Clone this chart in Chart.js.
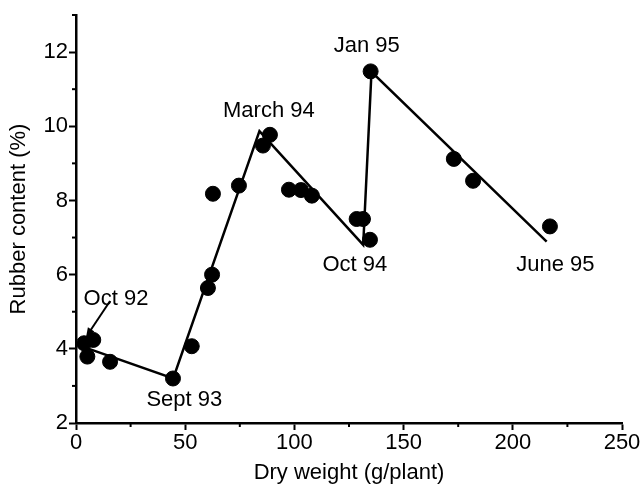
<!DOCTYPE html>
<html>
<head>
<meta charset="utf-8">
<script src="https://cdn.jsdelivr.net/npm/chart.js@4/dist/chart.umd.min.js"></script>
<style>
  html, body { margin: 0; padding: 0; background: #fff; }
  canvas { display: block; }
</style>
</head>
<body>
<canvas id="chart" width="644" height="487"></canvas>
<script>
// measured points
const dryWeight = [3.7, 5.2, 7.9, 15.6, 44.4, 53, 60.4, 62.3, 62.7, 74.6, 85.6, 88.8, 97.5, 103, 108, 128.5, 131.4, 134.6, 134.9, 173, 181.8, 217];
const rubber = [4.15, 3.79, 4.24, 3.65, 3.2, 4.07, 5.64, 6.0, 8.18, 8.4, 9.48, 9.77, 8.29, 8.28, 8.13, 7.5, 7.5, 6.94, 11.48, 9.12, 8.53, 7.3];

// seasonal trend line (zig-zag)
const trendX = [3, 44.5, 84, 131.5, 135.3, 215.5];
const trendY = [4.06, 3.2, 9.87, 6.8, 11.47, 6.89];

// date labels, anchored at text baseline centre
const noteText = ["Oct 92", "Sept 93", "March 94", "Oct 94", "Jan 95", "June 95"];
const noteX = [18.3, 49.6, 88.3, 127.7, 133.1, 219.5];
const noteY = [5.18, 2.47, 10.25, 6.11, 12.0, 6.11];

const xTicks = [0, 50, 100, 150, 200, 250];
const yTicks = [2, 4, 6, 8, 10, 12];

Chart.defaults.font.family = "'Liberation Sans', Arial, Helvetica, sans-serif";
Chart.defaults.color = "#000";

const toPoints = (xs, ys) => xs.map((x, i) => ({ x: x, y: ys[i] }));

const minorTicks = {
  id: "minorTicks",
  afterDraw(chart) {
    const { ctx, scales: { x, y } } = chart;
    ctx.save();
    ctx.strokeStyle = "#000";
    ctx.lineWidth = 2;
    for (let v = 25; v < 250; v += 50) {
      const px = x.getPixelForValue(v);
      ctx.beginPath();
      ctx.moveTo(px, y.bottom);
      ctx.lineTo(px, y.bottom + 4);
      ctx.stroke();
    }
    for (let v = 3; v <= 13; v += 2) {
      const py = y.getPixelForValue(v);
      ctx.beginPath();
      ctx.moveTo(x.left, py);
      ctx.lineTo(x.left - 4, py);
      ctx.stroke();
    }
    ctx.restore();
  },
};

const notes = {
  id: "notes",
  afterDatasetsDraw(chart) {
    const { ctx, scales: { x, y } } = chart;
    ctx.save();
    ctx.fillStyle = "#000";
    ctx.font = "22px 'Liberation Sans', Arial, sans-serif";
    ctx.textAlign = "center";
    ctx.textBaseline = "alphabetic";
    noteText.forEach((t, i) => {
      ctx.fillText(t, x.getPixelForValue(noteX[i]), y.getPixelForValue(noteY[i]));
    });
    // arrow for Oct 92
    const x0 = x.getPixelForValue(15.6), y0 = y.getPixelForValue(5.29);
    const x1 = x.getPixelForValue(4.6), y1 = y.getPixelForValue(4.32);
    const a = Math.atan2(y1 - y0, x1 - x0);
    ctx.strokeStyle = "#000";
    ctx.lineWidth = 2;
    ctx.beginPath();
    ctx.moveTo(x0, y0);
    ctx.lineTo(x1 - 6 * Math.cos(a), y1 - 6 * Math.sin(a));
    ctx.stroke();
    ctx.beginPath();
    ctx.moveTo(x1, y1);
    ctx.lineTo(x1 - 10 * Math.cos(a - 0.4), y1 - 10 * Math.sin(a - 0.4));
    ctx.lineTo(x1 - 10 * Math.cos(a + 0.4), y1 - 10 * Math.sin(a + 0.4));
    ctx.closePath();
    ctx.fill();
    ctx.restore();
  },
};

new Chart(document.getElementById("chart"), {
  type: "scatter",
  data: {
    datasets: [
      {
        data: toPoints(trendX, trendY),
        showLine: true,
        borderColor: "#000",
        borderWidth: 2.5,
        pointRadius: 0,
        tension: 0,
      },
      {
        data: toPoints(dryWeight, rubber),
        backgroundColor: "#000",
        borderColor: "#000",
        pointRadius: 7.5,
        pointHoverRadius: 7.5,
      },
    ],
  },
  options: {
    responsive: false,
    animation: false,
    layout: { padding: { top: 15, right: 22, left: 0, bottom: 0 } },
    plugins: {
      legend: { display: false },
      tooltip: { enabled: false },
    },
    scales: {
      x: {
        type: "linear",
        min: 0,
        max: 250,
        afterBuildTicks: (s) => { s.ticks = xTicks.map((v) => ({ value: v })); },
        afterFit: (s) => { s.height = 64; },
        ticks: { font: { size: 22 }, color: "#000", padding: 0, maxRotation: 0 },
        grid: { drawOnChartArea: false, tickLength: 7, tickColor: "#000", tickWidth: 2 },
        border: { color: "#000", width: 2.5 },
        title: {
          display: true,
          text: "Dry weight (g/plant)",
          font: { size: 22 },
          color: "#000",
          padding: { top: 0, bottom: 1 },
        },
      },
      y: {
        type: "linear",
        min: 2,
        max: 13,
        afterBuildTicks: (s) => { s.ticks = yTicks.map((v) => ({ value: v })); },
        afterFit: (s) => { s.width = 76; },
        ticks: { font: { size: 22 }, color: "#000", padding: 1 },
        grid: { drawOnChartArea: false, tickLength: 7, tickColor: "#000", tickWidth: 2 },
        border: { color: "#000", width: 2.5 },
        title: {
          display: true,
          text: "Rubber content (%)",
          font: { size: 22 },
          color: "#000",
          padding: { top: 6, bottom: 0 },
        },
      },
    },
  },
  plugins: [minorTicks, notes],
});
</script>
</body>
</html>
